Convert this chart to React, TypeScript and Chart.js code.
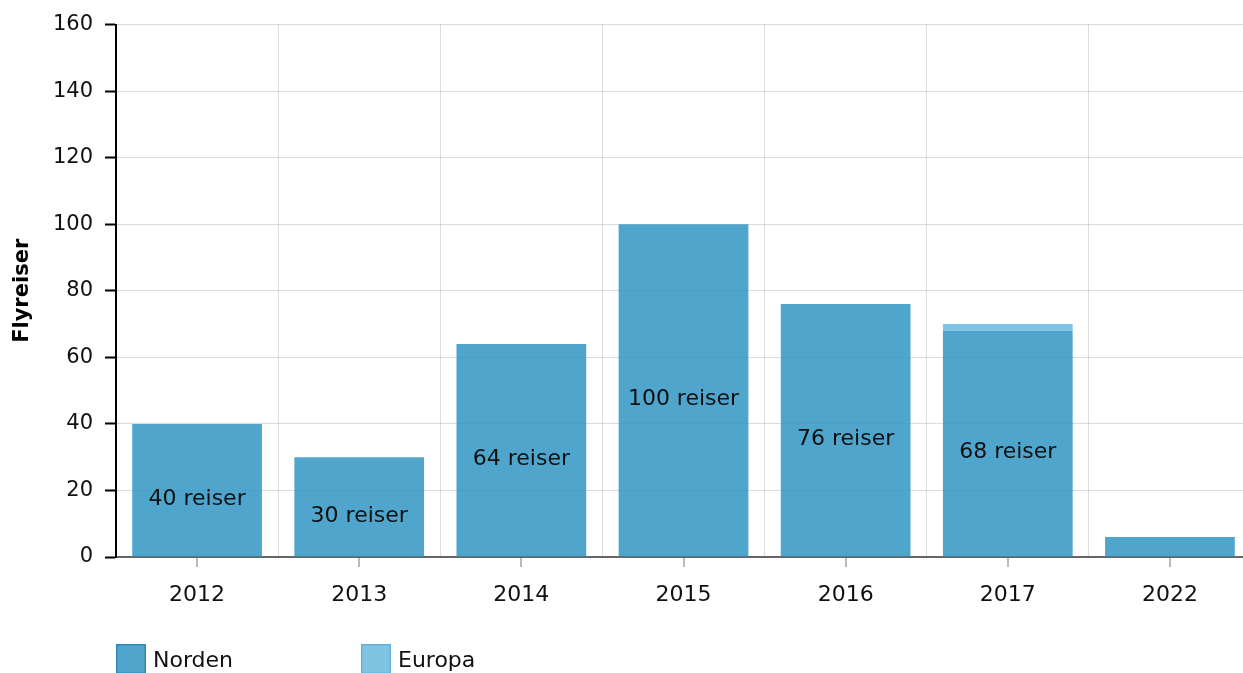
import React, { useEffect, useRef } from "react";
import { Chart, registerables } from "chart.js";

Chart.register(...registerables);

const categories = ["2012", "2013", "2014", "2015", "2016", "2017", "2022"];
const nordenValues = [40, 30, 64, 100, 76, 68, 6];
const europaValues = [0, 0, 0, 0, 0, 2, 0];
const yTicks = [0, 20, 40, 60, 80, 100, 120, 140, 160];
const seriesNames = ["Norden", "Europa"];
const labelSuffix = " reiser";
const yTitle = "Flyreiser";

const FONT = "'DejaVu Sans', Verdana, sans-serif";
const NORDEN_FILL = "rgba(48,149,195,0.85)";
const EUROPA_FILL = "rgba(106,186,223,0.85)";
const NORDEN_BORDER = "rgba(40,135,180,0.9)";
const EUROPA_BORDER = "rgba(95,175,215,0.9)";

const extrasPlugin = {
  id: "extras",
  afterDatasetsDraw(chart: any) {
    const ctx = chart.ctx;
    const meta = chart.getDatasetMeta(0);
    ctx.save();
    ctx.fillStyle = "#111";
    ctx.font = `22px ${FONT}`;
    ctx.textAlign = "center";
    ctx.textBaseline = "middle";
    meta.data.forEach((el: any, i: number) => {
      const v = nordenValues[i];
      if (v >= 10) {
        const y = (el.y + el.base) / 2 + 9;
        ctx.fillText(v + labelSuffix, el.x, y);
      }
    });
    ctx.restore();
  },
  afterDraw(chart: any) {
    const ctx = chart.ctx;
    const xScale = chart.scales.x;
    const area = chart.chartArea;
    ctx.save();
    // x tick marks at category centres
    ctx.strokeStyle = "#bbb";
    ctx.lineWidth = 2;
    categories.forEach((_, i) => {
      const x = Math.round(xScale.getPixelForValue(i));
      ctx.beginPath();
      ctx.moveTo(x, area.bottom + 1);
      ctx.lineTo(x, area.bottom + 10);
      ctx.stroke();
    });
    // legend
    const fills = [NORDEN_FILL, EUROPA_FILL];
    const borders = [NORDEN_BORDER, EUROPA_BORDER];
    ctx.font = `22px ${FONT}`;
    ctx.textAlign = "left";
    ctx.textBaseline = "middle";
    seriesNames.forEach((name, i) => {
      const x = area.left + i * 245;
      const y = 644;
      ctx.fillStyle = fills[i];
      ctx.fillRect(x, y, 30, 30);
      ctx.strokeStyle = borders[i];
      ctx.lineWidth = 1.5;
      ctx.strokeRect(x + 0.75, y + 0.75, 28.5, 28.5);
      ctx.fillStyle = "#111";
      ctx.fillText(name, x + 37, 661);
    });
    ctx.restore();
  },
};

export default function App() {
  const ref = useRef<HTMLCanvasElement | null>(null);
  useEffect(() => {
    if (!ref.current) return;
    Chart.defaults.font.family = FONT;
    Chart.defaults.font.size = 22;
    Chart.defaults.color = "#111";
    const chart = new Chart(ref.current, {
      type: "bar",
      data: {
        labels: categories,
        datasets: [
          {
            label: seriesNames[0],
            data: nordenValues,
            backgroundColor: NORDEN_FILL,
            borderWidth: 0,
            categoryPercentage: 1,
            barPercentage: 0.8,
          },
          {
            label: seriesNames[1],
            data: europaValues,
            backgroundColor: EUROPA_FILL,
            borderWidth: 0,
            categoryPercentage: 1,
            barPercentage: 0.8,
          },
        ],
      },
      options: {
        responsive: false,
        animation: false,
        layout: { padding: { top: 23, right: 9, bottom: 73, left: 0 } },
        plugins: {
          legend: { display: false },
          tooltip: { enabled: false },
        },
        scales: {
          x: {
            stacked: true,
            offset: true,
            grid: {
              offset: true,
              color: "rgba(0,0,0,0.13)",
              drawTicks: false,
            },
            border: { color: "#666", width: 2 },
            ticks: { padding: 25, color: "#111", font: { size: 22 } },
            afterFit(scale: any) {
              scale.height = 60;
            },
          },
          y: {
            stacked: true,
            min: 0,
            max: 160,
            afterBuildTicks(scale: any) {
              scale.ticks = yTicks.map((v) => ({ value: v }));
            },
            grid: {
              color: "rgba(0,0,0,0.14)",
              tickColor: "#000",
              tickLength: 11,
              tickWidth: 2,
            },
            border: { color: "#000", width: 2 },
            ticks: { padding: 12, color: "#111", font: { size: 21 } },
            title: {
              display: true,
              text: yTitle,
              color: "#000",
              font: { size: 21, weight: "bold" },
              padding: { top: 10, bottom: 10 },
            },
            afterFit(scale: any) {
              scale.width = 116;
            },
          },
        },
      },
      plugins: [extrasPlugin],
    });
    return () => chart.destroy();
  }, []);
  return (
    <div style={{ position: "absolute", left: 0, top: 0, width: 1260, height: 690 }}>
      <canvas ref={ref} width={1260} height={690} style={{ width: 1260, height: 690 }} />
    </div>
  );
}
